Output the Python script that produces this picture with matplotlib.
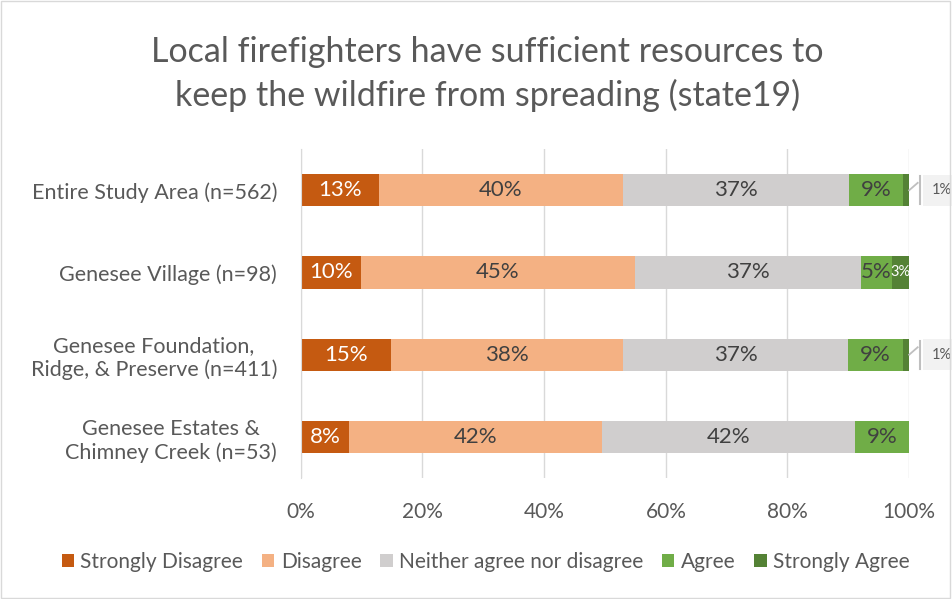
import numpy as np
import matplotlib.pyplot as plt
from matplotlib.patches import Rectangle

plt.rcParams['font.family'] = ['Lato', 'DejaVu Sans']

# ── Data ──────────────────────────────────────────────────────────────────────
groups = ['Entire Study Area (n=562)', 'Genesee Village (n=98)',
          'Genesee Foundation,\nRidge, & Preserve (n=411)',
          'Genesee Estates &\nChimney Creek (n=53)']
responses = ['Strongly Disagree', 'Disagree', 'Neither agree nor disagree',
             'Agree', 'Strongly Agree']
strongly_disagree = [12.8, 9.9, 14.8, 7.9]
disagree = [40.2, 45.0, 38.2, 41.6]
neither = [37.1, 37.2, 37.0, 41.6]
agree = [8.9, 5.1, 9.0, 8.9]
strongly_agree = [1.0, 2.8, 1.0, 0.0]

colors = ['#C55A11', '#F4B183', '#D0CECE', '#70AD47', '#548235']
label_colors = ['white', '#404040', '#404040', '#404040', 'white']

series = [strongly_disagree, disagree, neither, agree, strongly_agree]

# ── Figure ────────────────────────────────────────────────────────────────────
fig = plt.figure(figsize=(9.52, 5.99), dpi=100)
ax = fig.add_axes([0.316, 0.202, 0.639, 0.549])

y = np.arange(len(groups))
left = np.zeros(len(groups))
for vals, col, lc, name in zip(series, colors, label_colors, responses):
    vals = np.array(vals)
    ax.barh(y, vals, left=left, height=0.39, color=col, label=name, zorder=3)
    for i, v in enumerate(vals):
        if v <= 0:
            continue
        if v < 2:
            # small segment: callout label to the right with a leader line
            end = left[i] + v
            ax.plot([end, end + 1.4], [y[i], y[i] - 0.09], color='#BFBFBF',
                    lw=1.3, clip_on=False, zorder=4)
            ax.plot([end + 1.7, end + 1.7], [y[i] - 0.17, y[i] + 0.17],
                    color='#BFBFBF', lw=1.5, clip_on=False, zorder=4)
            ax.text(end + 5.3, y[i], f'{v:.0f}%', fontsize=10.5, color='#595959',
                    ha='center', va='center', clip_on=False,
                    bbox=dict(boxstyle='square,pad=0.6', fc='#F2F2F2', ec='none'))
        else:
            fs = 10.5 if v < 4 else 16
            ax.text(left[i] + v / 2, y[i], f'{v:.0f}%', ha='center',
                    va='center', color=lc, fontsize=fs, zorder=4)
    left += vals

ax.set_xlim(0, 100)
ax.set_ylim(len(groups) - 0.5, -0.5)
ax.set_xticks(range(0, 101, 20))
ax.set_xticklabels([f'{t}%' for t in range(0, 101, 20)])
ax.set_yticks(y)
ax.set_yticklabels(groups)
ax.tick_params(axis='both', length=0, labelsize=15.5, colors='#595959')
ax.tick_params(axis='x', pad=17, labelsize=15)
ax.tick_params(axis='y', pad=17)
for lbl in ax.get_yticklabels():
    lbl.set_horizontalalignment('right')
    lbl.set_multialignment('center')
ax.grid(axis='x', color='#D9D9D9', lw=1, zorder=0)
for s in ['top', 'right', 'bottom']:
    ax.spines[s].set_visible(False)
ax.spines['left'].set_color('#D9D9D9')
ax.spines['left'].set_zorder(5)

fig.suptitle('Local firefighters have sufficient resources to\n'
             'keep the wildfire from spreading (state19)',
             x=0.512, y=0.94, fontsize=24.5, color='#595959',
             linespacing=1.42)

fig.legend(loc='center', bbox_to_anchor=(0.51, 0.062), ncol=5, frameon=False,
           fontsize=15, handlelength=0.6, handleheight=0.6, handletextpad=0.3,
           columnspacing=0.9, labelcolor='#595959')

fig.patches.append(Rectangle((0.001, 0.001), 0.997, 0.997,
                             transform=fig.transFigure, fill=False,
                             ec='#D9D9D9', lw=1))

plt.savefig('out.png', dpi=100)
